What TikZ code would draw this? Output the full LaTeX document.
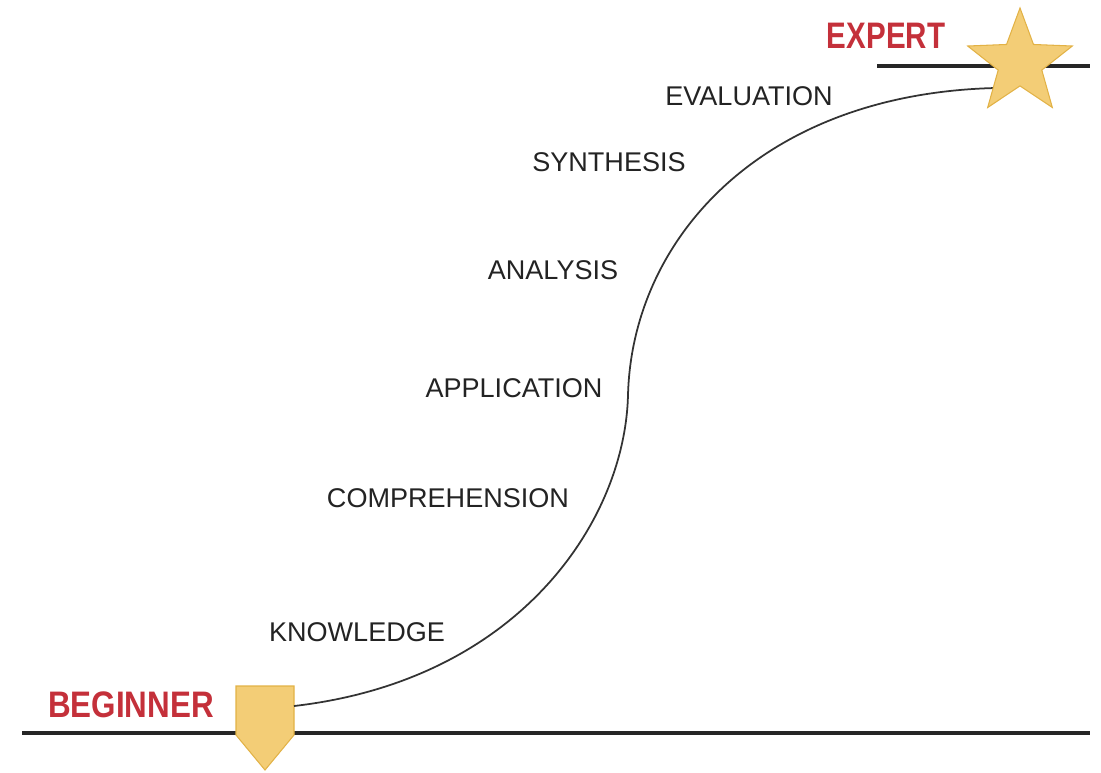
\documentclass[tikz,border=0pt]{standalone}
\usepackage{fontspec}
\setmainfont{Liberation Sans}
\usepackage{xcolor}
\definecolor{levelred}{RGB}{196,48,58}
\definecolor{markgold}{RGB}{243,205,118}
\definecolor{markedge}{RGB}{226,178,70}
\definecolor{labelgray}{RGB}{35,35,35}
\usetikzlibrary{shapes.geometric}
\newcommand{\levelfont}{\fontsize{21pt}{21pt}\selectfont\bfseries}
\newcommand{\stagefont}{\fontsize{15.4pt}{15.4pt}\selectfont}
\tikzset{
    baseline/.style={line width=2.6pt, black!85},
    stage/.style={text=labelgray, font=\stagefont, inner sep=0pt},
    level/.style={text=levelred, font=\levelfont, inner sep=0pt},
    growth/.style={line width=1pt, black!80},
    goldmark/.style={fill=markgold, draw=markedge, line width=0.6pt},
    goal/.style={goldmark, star, star points=5, star point ratio=2.4, minimum size=2.2cm, inner sep=0pt}
}
\newcommand{\condensed}[1]{\scalebox{0.8}[1]{#1}}

\begin{document}
\begin{tikzpicture}[x=0.02cm, y=-0.02cm]
      \useasboundingbox (0,0) rectangle (1101,772);

      % ground lines
      \coordinate (low-left) at (22,733);
      \coordinate (low-right) at (1090,733);
      \coordinate (high-left) at (877,66);
      \coordinate (high-right) at (1090,66);
      \draw[baseline] (low-left) -- (low-right);
      \draw[baseline] (high-left) -- (high-right);

      % levels
      \node[level] (beginner) at (131,705) {\scalebox{0.85}[1]{BEGINNER}};
      \node[level] (expert) at (886,36) {\condensed{EXPERT}};

      % start marker
      \coordinate (start) at (294,706);
      \filldraw[goldmark] (236,686) -- (294,686) -- (294,735) -- (265,770) -- (236,735) -- cycle;

      % the curve
      \coordinate (turn) at (628,395);
      \coordinate (finish) at (995,88);
      \draw[growth] (start) .. controls (520,680) and (625,520) .. (turn)
                            .. controls (632,240) and (760,94) .. (finish);

      \node[goal] (star) at (1020,63) {};

      % stages
      \node[stage] (knowledge) at (357,632) {KNOWLEDGE};
      \node[stage] (comprehension) at (448,498) {COMPREHENSION};
      \node[stage] (application) at (514,388) {APPLICATION};
      \node[stage] (analysis) at (553,270) {ANALYSIS};
      \node[stage] (synthesis) at (609,162) {SYNTHESIS};
      \node[stage] (evaluation) at (749,96) {EVALUATION};
\end{tikzpicture}
\end{document}
